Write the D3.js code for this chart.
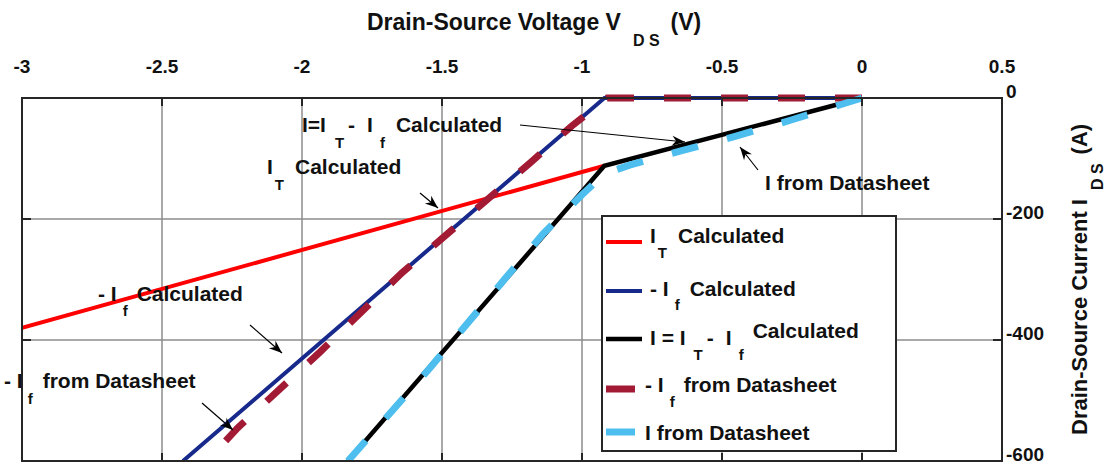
<!DOCTYPE html>
<html><head><meta charset="utf-8">
<script src="https://cdn.jsdelivr.net/npm/d3@7"></script>
<style>
body{margin:0;background:#fff}
text{font-family:"Liberation Sans",Arial,sans-serif;font-weight:bold;fill:#111;white-space:pre}
</style>
</head><body><svg id="c" width="1107" height="466"></svg>
<script>
// ---------- data ----------
const xTicks=[-3,-2.5,-2,-1.5,-1,-0.5,0,0.5];
const xTickLabels=["-3","-2.5","-2","-1.5","-1","-0.5","0","0.5"];
const yTicks=[0,-200,-400,-600];
const yTickLabels=["0","-200","-400","-600"];

const itCalcV=[-3,-0.92];
const itCalcI=[-380,-112];
const ifCalcV=[0,-0.92,-2.425];
const ifCalcI=[0,0,-600];
const iCalcV=[0,-0.92,-1.836];
const iCalcI=[0,-112,-600];
const ifDsV=[0,-0.91,-1.036,-1.18,-1.643,-1.936,-2.229,-2.34];
const ifDsI=[0,0,-46,-105,-289,-420,-545,-600];
const iDsV=[0,-0.25,-0.45,-0.65,-0.83,-0.92,-1.0,-1.14,-1.27,-1.55,-1.836];
const iDsI=[0,-36,-63,-88,-111,-125,-160,-225,-296,-450,-600];

// ---------- setup ----------
const svg=d3.select("#c");
const L=22,R=1002,T=98,B=461;
const x=d3.scaleLinear().domain([-3,0.5]).range([L,R]);
const y=d3.scaleLinear().domain([-600,0]).range([B,T]);

const series=[
  {v:itCalcV,i:itCalcI,color:"#ff0000",w:4,dash:null},
  {v:ifCalcV,i:ifCalcI,color:"#172a8c",w:4,dash:null},
  {v:iCalcV,i:iCalcI,color:"#000000",w:4.5,dash:null},
  {v:ifDsV,i:ifDsI,color:"#a31a35",w:7,dash:"27,30"},
  {v:iDsV,i:iDsI,color:"#4dbeee",w:7,dash:"27,30"}
];

// grid
const gridC="#8c8c8c";
svg.append("g").selectAll("line").data(xTicks.slice(1,-1)).join("line")
  .attr("x1",d=>x(d)).attr("x2",d=>x(d)).attr("y1",T).attr("y2",B)
  .attr("stroke",gridC).attr("stroke-width",1.5);
svg.append("g").selectAll("line").data(yTicks.slice(1,-1)).join("line")
  .attr("y1",d=>y(d)).attr("y2",d=>y(d)).attr("x1",L).attr("x2",R)
  .attr("stroke",gridC).attr("stroke-width",1.5);

// lines
svg.append("clipPath").attr("id","pc").append("rect").attr("x",L).attr("y",T-4).attr("width",R-L).attr("height",B-T+4);
const lg=svg.append("g").attr("clip-path","url(#pc)");
series.forEach(s=>{
  const pts=s.v.map((v,k)=>[v,s.i[k]]);
  lg.append("path").attr("d",d3.line().x(d=>x(d[0])).y(d=>y(d[1]))(pts))
    .attr("fill","none").attr("stroke",s.color).attr("stroke-width",s.w)
    .attr("stroke-dasharray",s.dash).attr("stroke-linejoin","miter");
});

// frame and ticks
const frameC="#262626";
svg.append("rect").attr("x",L).attr("y",T).attr("width",R-L).attr("height",B-T)
  .attr("fill","none").attr("stroke",frameC).attr("stroke-width",2);
const tk=svg.append("g").attr("stroke",frameC).attr("stroke-width",2);
xTicks.forEach(v=>{
  tk.append("line").attr("x1",x(v)).attr("x2",x(v)).attr("y1",T).attr("y2",T+8);
  tk.append("line").attr("x1",x(v)).attr("x2",x(v)).attr("y1",B).attr("y2",B-8);
});
yTicks.forEach(v=>{
  tk.append("line").attr("y1",y(v)).attr("y2",y(v)).attr("x1",L).attr("x2",L+9);
  tk.append("line").attr("y1",y(v)).attr("y2",y(v)).attr("x1",R).attr("x2",R-9);
});

// tick labels
svg.append("g").selectAll("text").data(xTicks).join("text")
  .attr("x",d=>x(d)).attr("y",73).attr("text-anchor","middle").style("font-size","19px")
  .text((d,k)=>xTickLabels[k]);
svg.append("g").selectAll("text").data(yTicks).join("text")
  .attr("x",R+4).attr("y",d=>y(d)).style("font-size","19px")
  .text((d,k)=>yTickLabels[k]);

// rich text helper
function rich(g,x0,y0,parts,size){
  const t=g.append("text").attr("x",x0).attr("y",y0).style("font-size",size+"px");
  let cur=0;
  parts.forEach(p=>{
    const off=p.sub||0;
    const ts=t.append("tspan").text(p.t).attr("dy",off-cur).style("font-size",(p.fs||size)+"px");
    if(p.dx) ts.attr("dx",p.dx);
    cur=off;
  });
  return t;
}

// axis titles
rich(svg,367,30,[{t:"Drain-Source Voltage V"},{t:"D S",sub:16,fs:16,dx:12},{t:"(V)",sub:0,dx:11}],23);
const yt=svg.append("g").attr("transform","translate(1087,435) rotate(-90)");
rich(yt,0,0,[{t:"Drain-Source Current I"},{t:"D S",sub:16,fs:16,dx:9},{t:"(A)",sub:0,dx:9}],22);

// legend
const leg=svg.append("g");
leg.append("rect").attr("x",602).attr("y",216).attr("width",294).attr("height",235)
  .attr("fill","#fff").attr("stroke",frameC).attr("stroke-width",2);
const legY=[242,291,339,389,432];
series.forEach((s,k)=>{
  const len=s.dash?29:36;
  leg.append("line").attr("x1",606).attr("x2",606+len).attr("y1",legY[k]).attr("y2",legY[k])
    .attr("stroke",s.color).attr("stroke-width",s.w);
});
const F=21;
rich(leg,650,243,[{t:"I"},{t:"T",sub:15,fs:15,dx:2},{t:"Calculated",sub:0,dx:11}],F);
rich(leg,650,296,[{t:"- I"},{t:"f",sub:14,fs:15,dx:6},{t:"Calculated",sub:0,dx:10}],F);
rich(leg,650,345,[{t:"I = I"},{t:"T",sub:15,fs:15,dx:8},{t:"-",sub:0,dx:4},{t:"I",dx:12},{t:"f",sub:15,fs:15,dx:7},{t:"Calculated",sub:-7,dx:9}],F);
rich(leg,645,392,[{t:"- I"},{t:"f",sub:15,fs:15,dx:6},{t:"from Datasheet",sub:0,dx:9}],F);
rich(leg,645,440,[{t:"I from Datasheet"}],F);

// annotations
const an=svg.append("g");
rich(an,302,132,[{t:"I=I"},{t:"T",sub:16,fs:15,dx:9},{t:"-",sub:0,dx:4},{t:"I",dx:12},{t:"f",sub:16,fs:15,dx:7},{t:"Calculated",sub:0,dx:11}],F);
rich(an,267,174,[{t:"I"},{t:"T",sub:16,fs:15,dx:2},{t:"Calculated",sub:0,dx:11}],F);
rich(an,765,190,[{t:"I from Datasheet"}],F);
rich(an,98,301,[{t:"- I"},{t:"f",sub:15,fs:15,dx:6},{t:"Calculated",sub:0,dx:9}],F);
rich(an,4,388,[{t:"- I"},{t:"f",sub:16,fs:15,dx:5},{t:"from Datasheet",sub:0,dx:10}],F);

svg.append("defs").append("marker").attr("id","ah").attr("markerUnits","userSpaceOnUse")
  .attr("viewBox","-14 -7 16 14").attr("markerWidth",16).attr("markerHeight",14)
  .attr("refX",0).attr("refY",0).attr("orient","auto")
  .append("path").attr("d","M0,0 L-13,-5 L-9,0 L-13,5 Z").attr("fill","#000");
const arrows=[[520,125,685,142],[420,193,438,208],[758,170,740,147],[250,325,282,353],[202,403,233,430]];
arrows.forEach(a=>{
  an.append("line").attr("x1",a[0]).attr("y1",a[1]).attr("x2",a[2]).attr("y2",a[3])
    .attr("stroke","#000").attr("stroke-width",1.2).attr("marker-end","url(#ah)");
});
</script></body></html>
